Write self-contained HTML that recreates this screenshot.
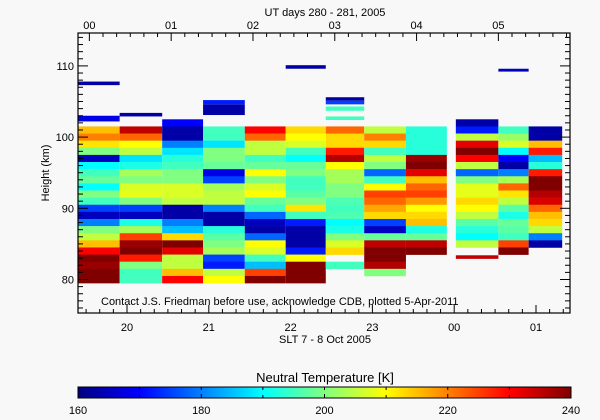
<!DOCTYPE html>
<html><head><meta charset="utf-8">
<style>
body{margin:0;background:#f8f8f8;}
svg{display:block;font-family:"Liberation Sans",sans-serif;}
text{fill:#000;font-size:11px;}
</style></head>
<body>
<svg id="chart" width="600" height="420" viewBox="0 0 600 420">
<rect x="0" y="0" width="600" height="420" fill="#f8f8f8"/>
<g id="cells"></g>
<g id="axes"></g>
<text x="101" y="305">Contact J.S. Friedman before use, acknowledge CDB, plotted 5-Apr-2011</text>
<text x="325" y="16" text-anchor="middle">UT days 280 - 281, 2005</text>
<text x="325" y="343" text-anchor="middle">SLT 7 - 8 Oct 2005</text>
<text x="49" y="173" text-anchor="middle" transform="rotate(-90 49 173)">Height (km)</text>
<text x="325" y="382" text-anchor="middle" font-size="13" style="font-size:13px">Neutral Temperature [K]</text>
<g id="cbar"></g>
</svg>
<script>
// column time spans (SLT hours)
const colStart=[19.40,19.91,20.43,20.93,21.44,21.94,22.43,22.90,23.41,24.02,24.54,24.91];
const colEnd  =[19.91,20.43,20.93,21.44,21.94,22.43,22.90,23.41,23.91,24.54,24.91,25.32];
// height bin centers (km), top down
const heights=[102,101,100,99,98,97,96,95,94,93,92,91,90,89,88,87,86,85,84,83,82,81,80];
const N=null;
const temps=[
[N,215,220,212,200,165,190,195,198,190,200,195,175,165,180,200,205,215,230,240,238,240,240],
[N,235,222,210,205,188,192,203,200,207,208,200,175,165,192,203,225,238,240,228,200,195,195],
[170,163,163,180,188,193,195,200,200,207,207,205,163,163,180,185,213,240,232,205,205,215,230],
[N,195,195,188,200,200,198,168,175,203,205,205,180,163,163,193,197,200,203,175,172,205,210],
[N,230,222,205,205,195,198,210,200,207,210,198,195,178,165,163,178,210,207,195,185,225,240],
[N,213,210,207,195,190,198,200,195,195,197,200,212,195,172,163,163,163,172,210,240,240,240],
[N,222,213,213,228,236,210,203,203,200,200,196,195,196,190,192,200,207,213,N,195,N,N],
[N,205,220,213,195,205,200,178,195,210,225,222,217,213,175,165,198,235,240,240,236,200,N],
[N,193,193,193,193,238,240,232,215,222,225,218,210,213,215,192,198,235,240,N,N,N,N],
[163,172,205,232,240,230,205,178,200,208,208,213,210,205,197,193,190,205,N,N,N,N,N],
[N,195,202,207,190,170,163,180,203,222,212,205,197,192,198,197,195,225,240,N,N,N,N],
[N,163,163,215,228,185,193,228,240,240,236,233,222,215,213,205,180,163,N,N,N,N,N]
];
// isolated thin layers: start hour, end hour, low km, high km, temperature
const layerStart=[19.40,19.40,19.91,20.93,20.93,21.94,22.43,22.43,22.43,22.43,24.02,24.54];
const layerEnd  =[19.91,19.91,20.43,21.44,21.44,22.43,22.90,22.90,22.90,22.90,24.54,24.91];
const layerLow  =[107.3,102.2,102.9,103.1,104.6,109.6,105.1,104.6,103.7,102.4,82.9,109.2];
const layerHigh =[107.8,103.0,103.4,104.6,105.2,110.1,105.6,105.1,104.3,102.9,83.4,109.6];
const layerTemp =[163,168,163,163,172,163,163,175,195,195,235,165];
const cbTicks=[160,180,200,220,240];
const sltTicks=[20,21,22,23,24,25];
const sltLabels=["20","21","22","23","00","01"];
const utLabels=["00","01","02","03","04","05"];
const hTicks=[80,90,100,110];

const X0=78,X1=570,Y0=33,Y1=313;
function xs(h){return 127+(h-20)*81.8;}
function ys(km){return 279.5-(km-80)*7.12;}
function jet(t){
  let v=Math.max(0,Math.min(1,(t-160)/80));
  const r=Math.max(0,Math.min(1,1.5-Math.abs(4*v-3)));
  const g=Math.max(0,Math.min(1,1.5-Math.abs(4*v-2)));
  const b=Math.max(0,Math.min(1,1.5-Math.abs(4*v-1)));
  return `rgb(${Math.round(r*255)},${Math.round(g*255)},${Math.round(b*255)})`;
}
const NS="http://www.w3.org/2000/svg";
function mk(tag,attrs,parent){const e=document.createElementNS(NS,tag);for(const k in attrs)e.setAttribute(k,attrs[k]);parent.appendChild(e);return e;}
const cells=document.getElementById('cells');
temps.forEach((col,ci)=>{
  col.forEach((v,hi)=>{
    if(v===null)return;
    const h=heights[hi];
    const xa=xs(colStart[ci]),xb=xs(colEnd[ci]);
    const ya=ys(h+0.5),yb=ys(h-0.5);
    const r=mk('rect',{x:xa,y:ya,width:xb-xa,height:yb-ya+0.3,fill:jet(v)},cells);
    
    
  });
});
layerTemp.forEach((v,i)=>{
  const xa=xs(layerStart[i]),xb=xs(layerEnd[i]);
  const ya=ys(layerHigh[i]),yb=ys(layerLow[i]);
  const r=mk('rect',{x:xa,y:ya,width:xb-xa,height:yb-ya,fill:jet(v)},cells);
  
  
});
const ax=document.getElementById('axes');
const fr=mk('rect',{x:X0,y:Y0,width:X1-X0,height:Y1-Y0,fill:'none',stroke:'#000','stroke-width':1.2},ax);


// bottom/top minor ticks every 10 minutes
for(let m=0;m<400;m++){
  const h=19+m/6; const x=xs(h); if(x<X0||x>X1)continue;
  const major=Math.abs(h-Math.round(h))<1e-6;
  mk('line',{x1:x,x2:x,y1:Y1,y2:Y1-(major?8:4),stroke:'#000'},ax);
  const hu=h+0.46; const xu=xs(h);
  const majU=Math.abs((h-19.54)-Math.round(h-19.54))<0.02;
}
for(let m=0;m<400;m++){
  const hu=m/6; const x=xs(19.54+hu); if(x<X0||x>X1)continue;
  const major=m%6===0;
  mk('line',{x1:x,x2:x,y1:Y0,y2:Y0+(major?8:4),stroke:'#000'},ax);
}
sltTicks.forEach((h,i)=>{
  const t=mk('text',{x:xs(h),y:331,'text-anchor':'middle'},ax);
  t.textContent=sltLabels[i];
  
  
});
utLabels.forEach((l,i)=>{
  const t=mk('text',{x:xs(19.54+i),y:29,'text-anchor':'middle'},ax);
  t.textContent=l;
  
  
});
for(let km=76;km<=116;km++){
  const y=ys(km); if(y<Y0||y>Y1)continue;
  const major=km%10===0;
  mk('line',{x1:X0,x2:X0+(major?10:5),y1:y,y2:y,stroke:'#000'},ax);
  mk('line',{x1:X1,x2:X1-(major?10:5),y1:y,y2:y,stroke:'#000'},ax);
}
hTicks.forEach(km=>{
  const t=mk('text',{x:74,y:ys(km)+4,'text-anchor':'end'},ax);
  t.textContent=String(km);
  
  
});
// colorbar
const cb=document.getElementById('cbar');
const CB0=78,CB1=571,CY0=387,CY1=398;
const defs=mk('defs',{},cb);
const lg=mk('linearGradient',{id:'jetg',x1:0,x2:1,y1:0,y2:0},defs);
for(let i=0;i<=16;i++){mk('stop',{offset:i/16,'stop-color':jet(160+80*i/16)},lg);}
const cr=mk('rect',{x:CB0,y:CY0,width:CB1-CB0,height:CY1-CY0,fill:'url(#jetg)',stroke:'#000'},cb);


for(let v=160;v<=240;v+=10){
  const x=CB0+(v-160)/80*(CB1-CB0);
  mk('line',{x1:x,x2:x,y1:CY1,y2:CY1-(v%20===0?4:3),stroke:'#000'},cb);
  mk('line',{x1:x,x2:x,y1:CY0,y2:CY0+3,stroke:'#000'},cb);
}
cbTicks.forEach(v=>{
  const t=mk('text',{x:CB0+(v-160)/80*(CB1-CB0),y:414,'text-anchor':'middle'},cb);
  t.textContent=String(v);
  
  
});
</script>
</body></html>
